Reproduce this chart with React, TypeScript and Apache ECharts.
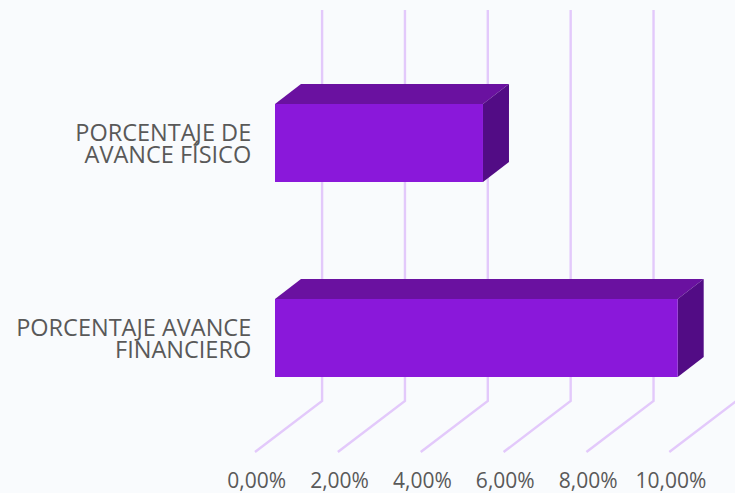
import React, { useEffect, useRef } from "react";
import * as echarts from "echarts";

const categories = ["PORCENTAJE DE\nAVANCE FÍSICO", "PORCENTAJE AVANCE\nFINANCIERO"];
const avance = [5.02, 9.72];
const ticks = [0, 2, 4, 6, 8, 10];

const FONT = "'Open Sans', sans-serif";
const BG = "#f9fbfd";
const LINE = "#e3c9fb";
const FRONT = "#8a18da";
const TOP = "#6a11a0";
const SIDE = "#520c85";

export default function App() {
  const ref = useRef<HTMLDivElement>(null);
  useEffect(() => {
    document.body.style.margin = "0";
    document.body.style.background = BG;
    const chart = echarts.init(ref.current!, null, { renderer: "svg" });
    chart.setOption({
      animation: false,
      backgroundColor: BG,
      grid: { left: 256.7, width: 414.3, top: 45.5, height: 390 },
      xAxis: {
        type: "value",
        min: 0,
        max: 10,
        interval: 2,
        axisLine: { show: false },
        axisTick: { show: false },
        splitLine: { show: false },
        axisLabel: {
          margin: 34,
          color: "#595959",
          fontFamily: FONT,
          fontSize: 21,
          formatter: (v: number) => v.toFixed(2).replace(".", ",") + "%",
        },
      },
      yAxis: {
        type: "category",
        inverse: true,
        data: categories,
        axisLine: { show: false },
        axisTick: { show: false },
        axisLabel: {
          margin: 5.5,
          color: "#595959",
          fontFamily: FONT,
          fontSize: 23.5,
          lineHeight: 22.7,
          align: "right",
        },
      },
      series: [
        {
          type: "custom",
          z: 1,
          clip: false,
          silent: true,
          data: ticks.map((t) => [t, 0]),
          encode: { x: 0, y: 1 },
          renderItem: (_p: any, api: any) => {
            const x = api.coord([api.value(0), 0])[0];
            const style = { stroke: LINE, lineWidth: 2.4, fill: "none" };
            return {
              type: "polyline",
              shape: { points: [[x + 65.4, 10], [x + 65.4, 401], [x - 1.7, 452]] },
              style,
            };
          },
        },
        {
          type: "custom",
          z: 2,
          clip: false,
          silent: true,
          data: avance.map((v, i) => [v, i]),
          encode: { x: 0, y: 1 },
          renderItem: (_p: any, api: any) => {
            const [xv, yc] = api.coord([api.value(0), api.value(1)]);
            const x0 = api.coord([0, api.value(1)])[0] + 18.3;
            const x1 = xv + 18.3;
            const h = 78;
            const y0 = yc - h / 2;
            const y1 = yc + h / 2;
            const dx = 26;
            const dy = 20;
            return {
              type: "group",
              children: [
                {
                  type: "polygon",
                  shape: { points: [[x0, y0], [x0 + dx, y0 - dy], [x1 + dx, y0 - dy], [x1, y0]] },
                  style: { fill: TOP },
                },
                {
                  type: "polygon",
                  shape: { points: [[x1, y0], [x1 + dx, y0 - dy], [x1 + dx, y1 - dy], [x1, y1]] },
                  style: { fill: SIDE },
                },
                {
                  type: "polygon",
                  shape: { points: [[x0, y0], [x1, y0], [x1, y1], [x0, y1]] },
                  style: { fill: FRONT },
                },
              ],
            };
          },
        },
      ],
    });
    return () => chart.dispose();
  }, []);
  return <div ref={ref} style={{ width: 735, height: 493 }} />;
}
